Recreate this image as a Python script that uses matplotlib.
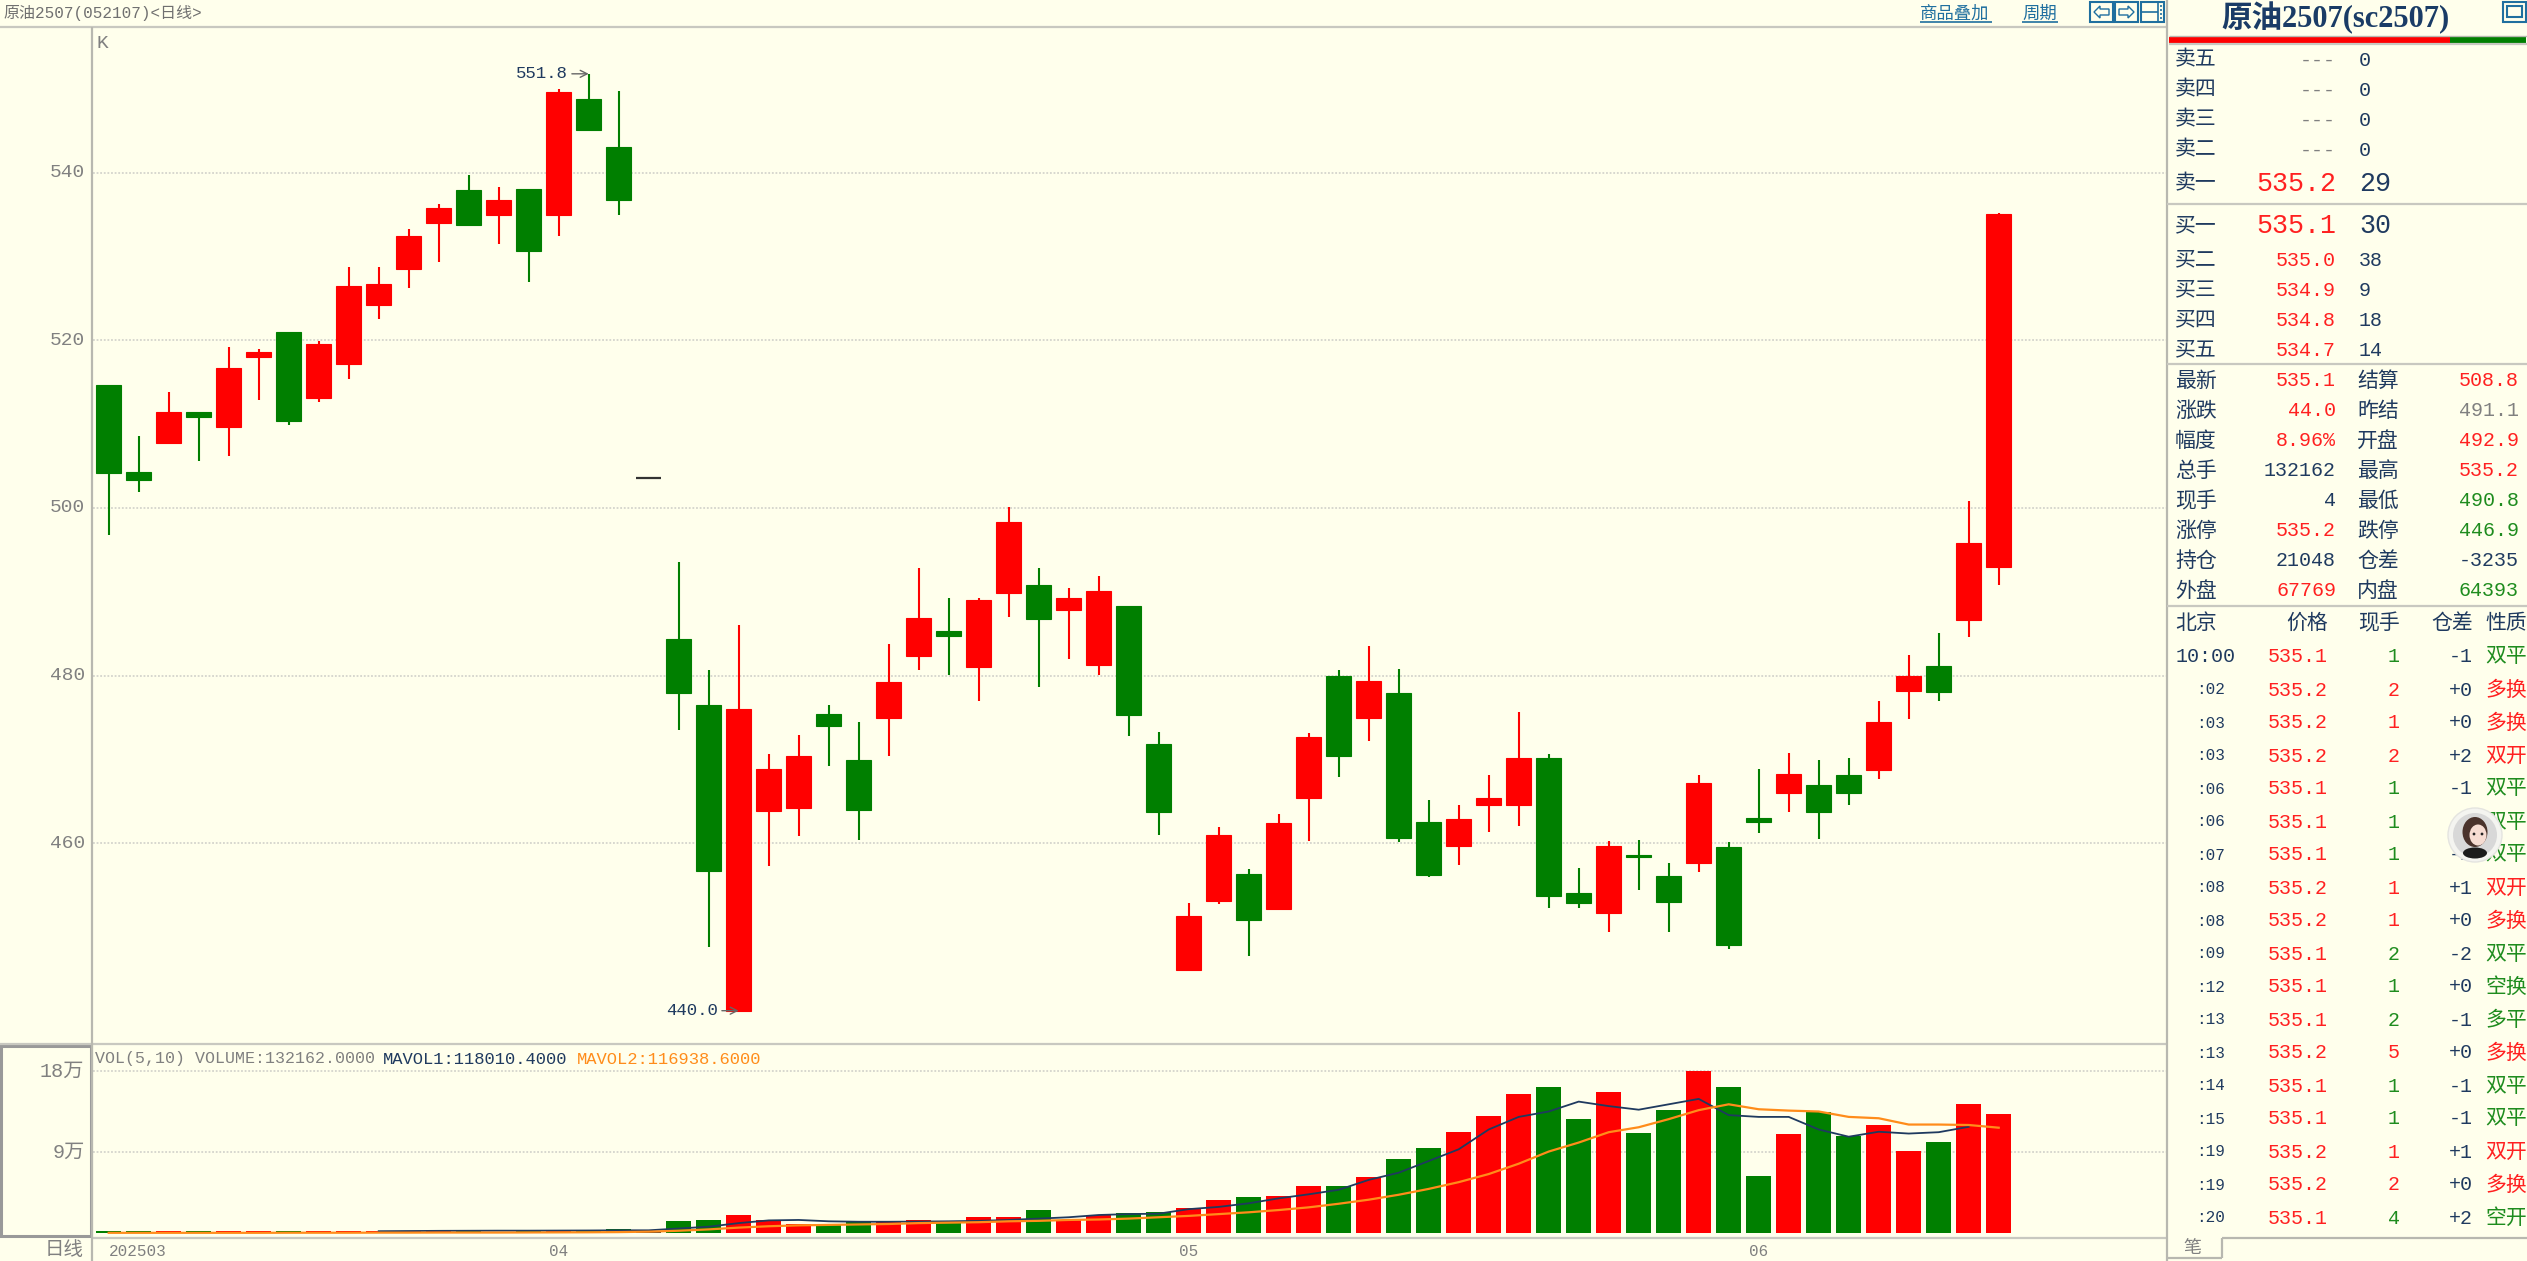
import matplotlib
matplotlib.use("Agg")
import matplotlib.pyplot as plt
from matplotlib.patches import Rectangle, Circle, Ellipse, Polygon

W, H = 2527, 1261
BG = '#FFFFEC'
RED = '#FF0000'
GREEN = '#007F00'
NAVY = '#1F3A5F'
GRAY = '#808080'
TXT_RED = '#FF2020'
TXT_GREEN = '#1E8C1E'
LINE = '#C8C8C0'
GRID = '#D4D4CC'

# ---- daily candles ----
opens = [514.7, 504.3, 507.8, 511.5, 509.6, 518.0, 521.0, 513.1, 517.2, 524.2, 528.5, 534.0, 537.9, 534.9, 538.1, 534.9,
         548.8, 543.1, 503.6, 484.3, 476.5, 440.0, 463.8, 464.2, 475.4, 469.9, 474.9, 482.3, 485.3, 481.0, 489.8, 490.8,
         487.8, 481.3, 488.3, 471.8, 444.9, 453.1, 456.3, 452.1, 465.4, 480.0, 474.9, 477.9, 462.5, 459.6, 464.6, 464.6,
         470.2, 454.1, 451.7, 458.6, 456.1, 457.6, 459.5, 463.0, 466.0, 466.9, 468.1, 468.7, 478.2, 481.1, 486.6, 492.9]
closes = [504.2, 503.3, 511.5, 510.8, 516.7, 518.6, 510.4, 519.5, 526.5, 526.7, 532.4, 535.8, 533.8, 536.7, 530.6, 549.6,
          545.1, 536.7, 503.6, 477.9, 456.7, 476.0, 468.8, 470.4, 474.0, 464.0, 479.2, 486.9, 484.7, 489.0, 498.3, 486.7,
          489.2, 490.1, 475.3, 463.7, 451.3, 461.0, 450.8, 462.4, 472.7, 470.4, 479.4, 460.6, 456.2, 462.9, 465.4, 470.2,
          453.7, 452.8, 459.7, 458.3, 453.0, 467.2, 447.8, 462.5, 468.3, 463.7, 466.0, 474.4, 479.9, 478.0, 495.8, 535.1]
highs = [514.7, 508.6, 513.8, 511.5, 519.2, 519.0, 521.0, 519.9, 528.7, 528.7, 533.3, 536.3, 539.7, 538.3, 538.1, 550.0,
         551.8, 549.8, 503.6, 493.5, 480.6, 486.0, 470.6, 472.9, 476.5, 474.5, 483.8, 492.8, 489.2, 489.2, 500.1, 492.8,
         490.5, 491.9, 488.3, 473.3, 452.9, 461.9, 456.9, 463.5, 473.1, 480.6, 483.5, 480.8, 465.1, 464.5, 468.1, 475.6,
         470.6, 457.0, 460.2, 460.4, 457.6, 468.1, 460.1, 468.8, 470.8, 469.9, 470.2, 476.9, 482.4, 485.1, 500.8, 535.2]
lows = [496.8, 501.9, 507.8, 505.6, 506.2, 512.9, 509.9, 512.6, 515.4, 522.6, 526.3, 529.4, 533.6, 531.5, 527.0, 532.5,
        545.1, 534.9, 503.6, 473.5, 447.6, 440.0, 457.3, 460.8, 469.2, 460.4, 470.4, 480.6, 480.1, 477.0, 487.0, 478.6,
        482.0, 480.1, 472.8, 461.0, 444.9, 452.7, 446.5, 452.1, 460.3, 467.9, 472.2, 460.1, 456.0, 457.4, 461.3, 462.0,
        452.2, 452.2, 449.4, 454.4, 449.4, 456.6, 447.4, 461.2, 463.7, 460.5, 464.6, 467.6, 474.8, 476.9, 484.6, 490.8]

# volume in units of 万
volume = [0.18, 0.18, 0.18, 0.18, 0.18, 0.18, 0.18, 0.18, 0.18, 0.18, 0.2, 0.33, 0.33, 0.08, 0.33, 0.33,
          0.3, 0.5, 0.2, 1.33, 1.5, 2.0, 1.48, 1.0, 0.85, 1.33, 1.33, 1.48, 1.15, 1.8, 1.8, 2.6,
          1.48, 2.0, 2.2, 2.3, 2.8, 3.7, 4.0, 4.15, 5.2, 5.2, 6.2, 8.2, 9.5, 11.2, 13.0, 15.5,
          16.2, 12.7, 15.7, 11.1, 13.7, 18.0, 16.2, 6.3, 11.0, 13.5, 10.8, 12.0, 9.15, 10.15, 14.3, 13.2]
mavol1_start = 9
mavol1 = [0.2, 0.22, 0.24, 0.25, 0.26, 0.26, 0.27, 0.28, 0.3, 0.3, 0.5, 0.7, 1.1, 1.4, 1.45, 1.3, 1.25, 1.25, 1.27, 1.3,
          1.35, 1.45, 1.6, 1.75, 2.0, 2.1, 2.15, 2.65, 2.9, 3.3, 3.85, 4.3, 4.8, 5.9, 6.7, 8.0, 9.3, 11.5, 12.9, 13.5,
          14.6, 14.1, 13.7, 14.3, 14.9, 13.1, 12.9, 12.9, 11.5, 10.7, 11.25, 11.05, 11.2, 11.8]
mavol2 = [0.02, 0.02, 0.02, 0.02, 0.02, 0.02, 0.03, 0.03, 0.03, 0.04, 0.04, 0.05, 0.05, 0.05, 0.06, 0.07, 0.08, 0.1, 0.15,
          0.25, 0.4, 0.6, 0.75, 0.85, 0.9, 0.95, 1.0, 1.1, 1.15, 1.2, 1.3, 1.35, 1.45, 1.5, 1.6, 1.75, 1.9, 2.1, 2.3, 2.55,
          2.85, 3.25, 3.7, 4.25, 4.9, 5.65, 6.55, 7.7, 9.05, 10.05, 11.2, 11.75, 12.65, 13.65, 14.3, 13.75, 13.6, 13.5,
          12.9, 12.75, 12.05, 12.05, 12.0, 11.7]

price_ticks = [540, 520, 500, 480, 460]
vol_ticks = [18, 9]
vol_tick_labels = ['18万', '9万']
month_idx = [0, 15, 36, 55]
month_labels = ['202503', '04', '05', '06']

# ---- quote panel ----
ask_labels = ['卖五', '卖四', '卖三', '卖二', '卖一']
ask_prices = ['---', '---', '---', '---', '535.2']
ask_sizes = ['0', '0', '0', '0', '29']
bid_labels = ['买一', '买二', '买三', '买四', '买五']
bid_prices = ['535.1', '535.0', '534.9', '534.8', '534.7']
bid_sizes = ['30', '38', '9', '18', '14']

stat_labels_l = ['最新', '涨跌', '幅度', '总手', '现手', '涨停', '持仓', '外盘']
stat_values_l = ['535.1', '44.0', '8.96%', '132162', '4', '535.2', '21048', '67769']
stat_colors_l = [TXT_RED, TXT_RED, TXT_RED, NAVY, NAVY, TXT_RED, NAVY, TXT_RED]
stat_labels_r = ['结算', '昨结', '开盘', '最高', '最低', '跌停', '仓差', '内盘']
stat_values_r = ['508.8', '491.1', '492.9', '535.2', '490.8', '446.9', '-3235', '64393']
stat_colors_r = [TXT_RED, GRAY, TXT_RED, TXT_RED, TXT_GREEN, TXT_GREEN, NAVY, TXT_GREEN]

trade_times = ['10:00', ':02', ':03', ':03', ':06', ':06', ':07', ':08', ':08', ':09', ':12', ':13', ':13', ':14', ':15', ':19', ':19', ':20']
trade_prices = ['535.1', '535.2', '535.2', '535.2', '535.1', '535.1', '535.1', '535.2', '535.2', '535.1', '535.1', '535.1', '535.2', '535.1', '535.1', '535.2', '535.2', '535.1']
trade_sizes = ['1', '2', '1', '2', '1', '1', '1', '1', '1', '2', '1', '2', '5', '1', '1', '1', '2', '4']
trade_oi = ['-1', '+0', '+0', '+2', '-1', '-1', '-1', '+1', '+0', '-2', '+0', '-1', '+0', '-1', '-1', '+1', '+0', '+2']
trade_kind = ['双平', '多换', '多换', '双开', '双平', '双平', '双平', '双开', '多换', '双平', '空换', '多平', '多换', '双平', '双平', '双开', '多换', '空开']

MONO = ['Liberation Mono', 'Noto Sans CJK SC']

fig = plt.figure(figsize=(W / 100, H / 100), dpi=100, facecolor=BG)


def axes_px(x0, y0, x1, y1, **kw):
    ax = fig.add_axes([x0 / W, 1 - y1 / H, (x1 - x0) / W, (y1 - y0) / H], **kw)
    ax.patch.set_alpha(0)
    for s in ax.spines.values():
        s.set_visible(False)
    ax.set_xticks([])
    ax.set_yticks([])
    return ax


xlim = ((92.5 - 108.7) / 30, (2167 - 108.7) / 30)

# ---- candles ----
ax = axes_px(92.5, 27, 2167, 1044)
ax.set_xlim(*xlim)
ax.set_ylim(540 - (1044 - 172.7) / 8.38, 540 + (172.7 - 27) / 8.38)
for p in price_ticks:
    ax.axhline(p, color=GRID, lw=1.3, ls=(0, (1, 1)), zorder=1)
    ax.text(xlim[0] - 0.25, p, str(p), ha='right', va='center', color=GRAY, fontsize=14, family=MONO)

colors = []
for o, c in zip(opens, closes):
    colors.append(RED if c > o else GREEN if c < o else '#333333')
edge_w = [1.6 if o == c else 0.8 for o, c in zip(opens, closes)]

xs = list(range(len(opens)))
ax.vlines(xs, lows, highs, colors=colors, lw=1.5, zorder=2)
ax.bar(xs, [abs(c - o) for o, c in zip(opens, closes)], bottom=[min(o, c) for o, c in zip(opens, closes)],
       width=0.85, color=colors, edgecolor=colors, linewidth=edge_w, zorder=3)

ax.annotate('551.8', xy=(16, 551.8), xytext=(-21, 0), textcoords='offset pixels', ha='right', va='center',
            color=NAVY, fontsize=12.5, family=MONO,
            arrowprops=dict(arrowstyle='->', color='#666666', lw=1, shrinkA=1, shrinkB=0))
ax.annotate('440.0', xy=(21, 440.0), xytext=(-21, 0), textcoords='offset pixels', ha='right', va='center',
            color=NAVY, fontsize=12.5, family=MONO,
            arrowprops=dict(arrowstyle='->', color='#666666', lw=1, shrinkA=1, shrinkB=0))

# ---- volume ----
av = axes_px(92.5, 1044, 2167, 1238)
av.set_xlim(*xlim)
av.set_ylim(-5 / 9, 21)
for v, lab in zip(vol_ticks, vol_tick_labels):
    av.axhline(v, color=GRID, lw=1.3, ls=(0, (1, 1)), zorder=1)
    av.text(xlim[0] - 0.27, v, lab, ha='right', va='center', color=GRAY, fontsize=14.5, family=MONO)
av.bar(xs, volume, width=0.85, color=colors, zorder=2)
av.plot(range(mavol1_start, mavol1_start + len(mavol1)), mavol1, color='#1F3A5F', lw=1.3, zorder=3)
av.plot(xs, mavol2, color='#FF8C1A', lw=1.6, zorder=3)

for i, lab in zip(month_idx, month_labels):
    av.text(i, -2.0, lab, ha='left' if i == 0 else 'center', va='center', color=GRAY, fontsize=11.5, family=MONO, clip_on=False)

# ---- window chrome and quote panel, in pixels ----
ui = fig.add_axes([0, 0, 1, 1])
ui.set_xlim(0, W)
ui.set_ylim(H, 0)
ui.axis('off')
ui.patch.set_alpha(0)


def hline(y, x0, x1, color=LINE, lw=1.6):
    ui.plot([x0, x1], [y, y], color=color, lw=lw, solid_capstyle='butt')


def vline(x, y0, y1, color=LINE, lw=1.6):
    ui.plot([x, x], [y0, y1], color=color, lw=lw, solid_capstyle='butt')


def txt(x, y, s, color=NAVY, size=15, ha='left', **kw):
    kw.setdefault('family', MONO)
    ui.text(x, y, s, color=color, fontsize=size, ha=ha, va='center', **kw)


hline(27, 0, 2167)
hline(1044, 0, 2167)
hline(1238, 92, 2167)
vline(92, 27, 1261, color='#B8B8B0')
vline(2167, 0, 1261, color='#B8B8B0')
ui.add_patch(Rectangle((1, 1046), 90, 190, fill=False, ec='#999999', lw=2.2))

txt(3, 13, '原油2507(052107)<日线>', color='#707070', size=11.5)
txt(97, 43, 'K', color=GRAY, size=14)
txt(95, 1059, 'VOL(5,10) VOLUME:132162.0000', color=GRAY, size=12)
txt(383, 1059, 'MAVOL1:118010.4000', color=NAVY, size=12.3)
txt(577, 1059, 'MAVOL2:116938.6000', color='#FF8C1A', size=12.3)
txt(84, 1250, '日线', color=GRAY, size=14, ha='right')

# top right links and buttons
BLUE = '#1F6F9F'
txt(1920, 14, '商品叠加', color=BLUE, size=12.5, family='Noto Sans CJK SC')
hline(22, 1920, 1992, color=BLUE, lw=1.2)
txt(2022, 14, '周期', color=BLUE, size=12.5, family='Noto Sans CJK SC')
hline(22, 2022, 2058, color=BLUE, lw=1.2)
for bx in [2090, 2115, 2141, 2503]:
    ui.add_patch(Rectangle((bx, 2), 23, 20, fill=False, ec=BLUE, lw=1.5))
ui.add_patch(Polygon([(2094, 12), (2100, 6), (2100, 9), (2109, 9), (2109, 15), (2100, 15), (2100, 18)], fill=False, ec=BLUE, lw=1))
ui.add_patch(Polygon([(2134, 12), (2128, 6), (2128, 9), (2119, 9), (2119, 15), (2128, 15), (2128, 18)], fill=False, ec=BLUE, lw=1))
hline(12, 2141, 2158, color=BLUE, lw=1.2)
vline(2158, 2, 22, color=BLUE, lw=1.2)
for dy in [6, 10, 14, 18]:
    hline(dy, 2160, 2162, color=BLUE, lw=1.2)
ui.add_patch(Rectangle((2507, 6), 15, 11, fill=False, ec=BLUE, lw=1.5))

# panel title and ratio bar
txt(2335, 18, '原油2507(sc2507)', color='#1A3C66', size=22, ha='center', weight='bold',
    family=['Liberation Serif', 'Noto Sans CJK SC'])
ui.add_patch(Rectangle((2169, 37), 281, 6, color=RED, lw=0))
ui.add_patch(Rectangle((2450, 37), 76, 6, color=GREEN, lw=0))
hline(36, 2169, W, color='#B8B8B0', lw=1)
hline(44, 2169, W)
hline(203.7, 2167, W)
hline(364, 2167, W)
hline(605.7, 2167, W)

ask_y = [60, 90, 120, 150, 184]
for y, lab, p, s in zip(ask_y, ask_labels, ask_prices, ask_sizes):
    big = p != '---'
    txt(2175, y, lab)
    txt(2336, y, p, color=TXT_RED if big else GRAY, size=19.2 if big else 14.4, ha='right')
    txt(2359, y, s, size=19.2 if big else 14.4)

bid_y = [226, 260, 290, 320, 350]
for i, (y, lab, p, s) in enumerate(zip(bid_y, bid_labels, bid_prices, bid_sizes)):
    txt(2175, y, lab)
    txt(2336, y, p, color=TXT_RED, size=19.2 if i == 0 else 14.4, ha='right')
    txt(2359, y, s, size=19.2 if i == 0 else 14.4)

for i in range(8):
    y = 381 + 30 * i
    txt(2175, y, stat_labels_l[i])
    txt(2336, y, stat_values_l[i], color=stat_colors_l[i], size=14.4, ha='right')
    txt(2357, y, stat_labels_r[i])
    txt(2519, y, stat_values_r[i], color=stat_colors_r[i], size=14.4, ha='right')

txt(2175, 623, '北京')
txt(2328, 623, '价格', ha='right')
txt(2400, 623, '现手', ha='right')
txt(2473, 623, '仓差', ha='right')
txt(2485, 623, '性质')

for i in range(len(trade_times)):
    y = 657 + 33 * i
    up = trade_prices[i] == '535.2'
    col = TXT_RED if up else TXT_GREEN
    if i == 0:
        txt(2176, y, trade_times[i], size=14.4)
    else:
        txt(2225, y, trade_times[i], size=11.5, ha='right')
    txt(2328, y, trade_prices[i], color=TXT_RED, size=14.4, ha='right')
    txt(2400, y, trade_sizes[i], color=col, size=14.4, ha='right')
    txt(2473, y, trade_oi[i], size=14.4, ha='right')
    txt(2485, y, trade_kind[i], color=TXT_RED if trade_kind[i] in ('多换', '双开') else TXT_GREEN)

# bottom tab
vline(2222, 1238, 1258, color='#B8B8B0')
hline(1238, 2222, W, color='#B8B8B0')
hline(1258, 2167, 2222, color='#B8B8B0')
txt(2192, 1249, '笔', color=GRAY, size=13, ha='center')

# avatar bubble over the trade list
ui.add_patch(Circle((2475, 835), 27, fc='#F4F4F0', ec='#E4E4E0', lw=1, zorder=5))
ui.add_patch(Circle((2475, 835), 22, fc='#D8D8D8', lw=0, zorder=6))
ui.add_patch(Ellipse((2475, 832), 25, 30, fc='#4A332C', lw=0, zorder=7))
ui.add_patch(Ellipse((2478, 835), 17, 21, fc='#F6DCD2', lw=0, zorder=8))
ui.add_patch(Ellipse((2475, 853), 24, 11, fc='#1C1C1C', lw=0, zorder=8))
ui.add_patch(Circle((2474, 834), 1.4, fc='#222222', lw=0, zorder=9))
ui.add_patch(Circle((2482, 834), 1.4, fc='#222222', lw=0, zorder=9))

fig.savefig('out.png', dpi=100, facecolor=BG)
